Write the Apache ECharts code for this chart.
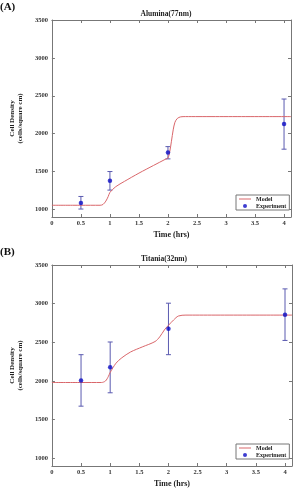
<!DOCTYPE html>
<html>
<head>
<meta charset="utf-8">
<title>Cell density</title>
<script src="https://cdn.jsdelivr.net/npm/echarts@6.0.0/dist/echarts.min.js"></script>
<style>
  html, body { margin: 0; padding: 0; background: #fff; }
  #main { width: 295px; height: 494px; }
</style>
</head>
<body>
<div id="main"></div>
<script>
// tick labels
var xTicks = [0, 0.5, 1, 1.5, 2, 2.5, 3, 3.5, 4];
var yTicks = [1000, 1500, 2000, 2500, 3000, 3500];

// (A) Alumina(77nm)
var timeA = [0.5, 1, 2, 4];
var meanA = [1084, 1378, 1750, 2128];
var lowA = [1005, 1255, 1667, 1795];
var highA = [1171, 1500, 1829, 2457];
var modelXA = [0, 0.5, 0.83, 0.88, 0.93, 0.97, 1.0, 1.1, 1.25, 1.5, 1.75, 1.95, 2.0, 2.03, 2.06, 2.09, 2.12, 2.16, 2.22, 2.3, 4.12];
var modelYA = [1055, 1055, 1055, 1065, 1110, 1170, 1225, 1300, 1370, 1479, 1580, 1660, 1680, 1760, 1900, 2050, 2150, 2200, 2222, 2225, 2225];

// (B) Titania(32nm)
var timeB = [0.5, 1, 2, 4];
var meanB = [2005, 2177, 2675, 2856];
var lowB = [1674, 1847, 2340, 2524];
var highB = [2340, 2504, 3006, 3191];
var modelXB = [0, 0.5, 0.85, 0.92, 0.97, 1.0, 1.1, 1.2, 1.35, 1.55, 1.77, 1.85, 1.93, 2.0, 2.09, 2.17, 2.3, 4.12];
var modelYB = [1980, 1980, 1980, 2000, 2060, 2110, 2230, 2300, 2375, 2440, 2510, 2570, 2660, 2720, 2790, 2840, 2852, 2852];

var font = 'Liberation Serif';
var axisColor = '#777';
var redLine = '#d9666a';
var blueDot = '#0c0cc4';
var errColor = '#5a5ab0';

function pairs(xs, ys) {
    var out = [];
    for (var i = 0; i < xs.length; i++) out.push([xs[i], ys[i]]);
    return out;
}
function errRows(xs, lo, hi) {
    var out = [];
    for (var i = 0; i < xs.length; i++) out.push([xs[i], lo[i], hi[i]]);
    return out;
}

function errorBar(params, api) {
    var x = api.value(0);
    var lo = api.coord([x, api.value(1)]);
    var hi = api.coord([x, api.value(2)]);
    var cap = 2.5;
    var st = { stroke: errColor, lineWidth: 1 };
    return {
        type: 'group',
        children: [
            { type: 'line', shape: { x1: lo[0], y1: lo[1], x2: hi[0], y2: hi[1] }, style: st },
            { type: 'line', shape: { x1: lo[0] - cap, y1: lo[1], x2: lo[0] + cap, y2: lo[1] }, style: st },
            { type: 'line', shape: { x1: hi[0] - cap, y1: hi[1], x2: hi[0] + cap, y2: hi[1] }, style: st }
        ]
    };
}

function plain(v) { return String(v); }

function xAxes(gi) {
    var base = {
        type: 'value', gridIndex: gi, min: 0, max: 4.12,
        axisLine: { show: true, onZero: false, lineStyle: { color: axisColor, width: 1 } },
        axisTick: { show: true, inside: true, length: 3, customValues: xTicks, lineStyle: { color: axisColor } },
        splitLine: { show: false }
    };
    var bottom = echarts.util.merge({
        position: 'bottom',
        name: 'Time (hrs)', nameLocation: 'middle', nameGap: 14,
        nameTextStyle: { fontFamily: font, fontWeight: 'bold', fontSize: 8, color: '#222' },
        axisLabel: { customValues: xTicks, formatter: plain, margin: 3, fontFamily: font, fontWeight: 'bold', fontSize: 6.5, color: '#333' }
    }, base, true);
    var top = echarts.util.merge({ position: 'top', axisLabel: { show: false } }, base, true);
    return [bottom, top];
}
function yAxes(gi) {
    var base = {
        type: 'value', gridIndex: gi, min: 900, max: 3500,
        axisLine: { show: true, onZero: false, lineStyle: { color: axisColor, width: 1 } },
        axisTick: { show: true, inside: true, length: 3, customValues: yTicks, lineStyle: { color: axisColor } },
        splitLine: { show: false }
    };
    var left = echarts.util.merge({
        position: 'left',
        name: 'Cell Density\n(cells/square cm)', nameLocation: 'middle', nameGap: 18,
        nameTextStyle: { fontFamily: font, fontWeight: 'bold', fontSize: 7, color: '#222', lineHeight: 8 },
        axisLabel: { customValues: yTicks, formatter: plain, margin: 4, fontFamily: font, fontWeight: 'bold', fontSize: 6.5, color: '#333' }
    }, base, true);
    var right = echarts.util.merge({ position: 'right', axisLabel: { show: false } }, base, true);
    return [left, right];
}

// thin line icon: the move-to points keep the box 12x4 so the bar stays 1px
var lineIcon = 'path://M0,0M12,4M0,1.5L12,1.5L12,2.5L0,2.5Z';

function legendAt(top) {
    return {
        data: [{ name: 'Model', icon: lineIcon }, { name: 'Experiment' }],
        left: 236, top: top, orient: 'vertical', itemGap: 1, itemWidth: 12, itemHeight: 4,
        padding: [1, 3, 1, 3], borderColor: '#777', borderWidth: 1, backgroundColor: '#fff',
        textStyle: { fontFamily: font, fontWeight: 'bold', fontSize: 6, color: '#222' }
    };
}

var chart = echarts.init(document.getElementById('main'));
var option = {
    animation: false,
    backgroundColor: '#fff',
    title: [
        { text: '(A)', left: 0, top: 2, padding: 0, textStyle: { fontFamily: font, fontWeight: 'bold', fontSize: 11, color: '#111' } },
        { text: 'Alumina(77nm)', left: 166, top: 10, padding: 0, textAlign: 'center', textStyle: { fontFamily: font, fontWeight: 'bold', fontSize: 7.5, color: '#222' } },
        { text: '(B)', left: 0, top: 247, padding: 0, textStyle: { fontFamily: font, fontWeight: 'bold', fontSize: 11, color: '#111' } },
        { text: 'Titania(32nm)', left: 164, top: 255, padding: 0, textAlign: 'center', textStyle: { fontFamily: font, fontWeight: 'bold', fontSize: 7.5, color: '#222' } }
    ],
    grid: [
        { left: 41, top: 20, right: 4, height: 197 },
        { left: 37, top: 265, right: 3, height: 201 }
    ],
    legend: [legendAt(195), legendAt(444)],
    xAxis: xAxes(0).concat(xAxes(1)),
    yAxis: yAxes(0).concat(yAxes(1)),
    series: [
        { name: 'Model', type: 'line', xAxisIndex: 0, yAxisIndex: 0, data: pairs(modelXA, modelYA), smooth: 0.3, showSymbol: false, symbol: 'none', lineStyle: { color: redLine, width: 1 }, itemStyle: { color: redLine } },
        { type: 'custom', xAxisIndex: 0, yAxisIndex: 0, data: errRows(timeA, lowA, highA), renderItem: errorBar, z: 3 },
        { name: 'Experiment', type: 'scatter', xAxisIndex: 0, yAxisIndex: 0, data: pairs(timeA, meanA), symbol: 'circle', symbolSize: 4.5, itemStyle: { color: blueDot }, z: 4 },
        { name: 'Model', type: 'line', xAxisIndex: 2, yAxisIndex: 2, data: pairs(modelXB, modelYB), smooth: 0.3, showSymbol: false, symbol: 'none', lineStyle: { color: redLine, width: 1 }, itemStyle: { color: redLine } },
        { type: 'custom', xAxisIndex: 2, yAxisIndex: 2, data: errRows(timeB, lowB, highB), renderItem: errorBar, z: 3 },
        { name: 'Experiment', type: 'scatter', xAxisIndex: 2, yAxisIndex: 2, data: pairs(timeB, meanB), symbol: 'circle', symbolSize: 4.5, itemStyle: { color: blueDot }, z: 4 }
    ]
};
chart.setOption(option);
</script>
</body>
</html>
